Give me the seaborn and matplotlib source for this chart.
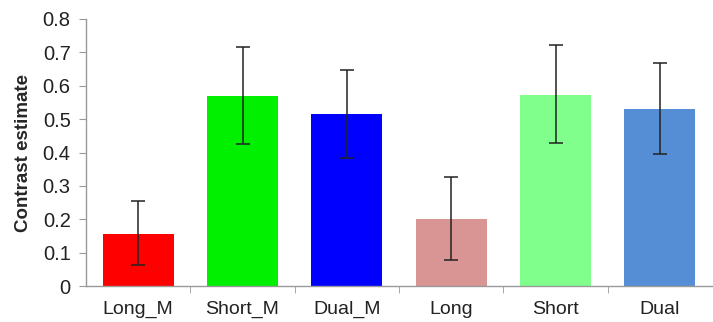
import matplotlib
matplotlib.use("Agg")
import matplotlib.pyplot as plt
import seaborn as sns
import numpy as np
import pandas as pd

categories = ["Long_M", "Short_M", "Dual_M", "Long", "Short", "Dual"]
values = [0.156, 0.570, 0.516, 0.200, 0.573, 0.530]
err_low = [0.064, 0.425, 0.385, 0.079, 0.429, 0.395]
err_high = [0.254, 0.715, 0.646, 0.327, 0.722, 0.668]
colors = ["#FF0000", "#00F000", "#0000FF", "#D99594", "#80FF8C", "#558ED5"]

sns.set_style("white")
plt.rcParams["font.family"] = ["Liberation Sans", "DejaVu Sans"]

df = pd.DataFrame({"cat": categories, "val": values})

fig = plt.figure(figsize=(7.13, 3.22), dpi=100)
ax = fig.add_axes([86/713, 1 - 286/322, (712-86)/713, (286-19)/322])

sns.barplot(data=df, x="cat", y="val", hue="cat", palette=colors, legend=False,
            width=0.68, ax=ax, saturation=1, edgecolor="none")

x = np.arange(len(categories))
vals = np.array(values)
yerr = np.vstack([vals - np.array(err_low), np.array(err_high) - vals])
ax.errorbar(x, vals, yerr=yerr, fmt="none", ecolor="#222222", elinewidth=1.1,
            capsize=5, capthick=1.1)

ax.set_xlim(-0.5, len(categories) - 0.5)
ax.set_ylim(0, 0.8)
ax.set_yticks(np.arange(0, 0.81, 0.1))
ax.set_yticklabels(["0"] + [f"{v:.1f}" for v in np.arange(0.1, 0.81, 0.1)])
ax.set_xlabel("")
ax.set_ylabel("Contrast estimate", fontsize=13.5, fontweight="bold", labelpad=8)

for side in ["top", "right"]:
    ax.spines[side].set_visible(False)
for side in ["left", "bottom"]:
    ax.spines[side].set_color("#999999")
    ax.spines[side].set_linewidth(1.0)

ax.set_xticks(x)
ax.set_xticks(np.arange(0.5, len(categories) - 0.5, 1), minor=True)
ax.tick_params(axis="x", which="major", length=0, labelsize=14, pad=11, colors="#222222")
ax.tick_params(axis="x", which="minor", length=5, color="#999999", direction="out", bottom=True)
ax.tick_params(axis="y", which="major", length=5, color="#999999", direction="out",
               left=True, labelsize=14.5, labelcolor="#222222", pad=6)

fig.savefig("out.png", dpi=100)
